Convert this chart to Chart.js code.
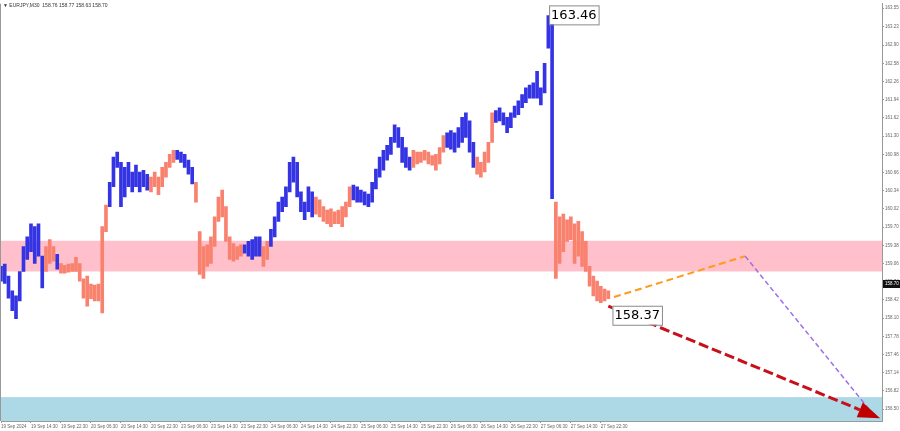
<!DOCTYPE html>
<html>
<head>
<meta charset="utf-8">
<script src="https://cdn.jsdelivr.net/npm/chart.js@4.4.1/dist/chart.umd.min.js"></script>
<style>
  html, body { margin: 0; padding: 0; background: #fff; }
</style>
</head>
<body>
<canvas id="myChart" width="900" height="431"></canvas>
<script>
// EURJPY M30 - one entry every 2 bars
const barStep = 2;
const highs = [159.01,159.05,158.84,158.58,158.49,158.92,159.36,159.53,159.76,159.71,159.76,159.19,
  159.36,159.48,159.36,159.22,159.06,159.03,159.05,159.06,159.17,159.06,158.79,158.84,158.70,158.68,158.70,159.71,160.09,
  160.49,160.93,161.02,160.84,160.75,160.84,160.67,160.79,160.67,160.70,160.63,
  160.58,160.67,160.58,160.75,160.84,160.98,161.05,161.05,161.02,160.98,160.88,160.75,
  160.49,159.62,159.36,159.39,159.53,159.88,160.23,160.35,160.06,159.53,159.41,159.36,159.39,
  159.39,159.45,159.48,159.53,159.53,159.36,159.45,
  159.66,159.88,160.14,160.23,160.41,160.84,160.93,160.84,160.32,160.14,160.41,160.32,
  160.23,160.18,160.06,160.00,160.02,159.97,160.00,160.06,160.14,160.41,
  160.44,160.41,160.35,160.32,160.28,160.49,160.72,160.93,161.05,161.14,161.28,161.50,161.45,161.28,161.10,160.93,
  161.05,161.02,161.02,161.05,161.02,160.96,160.98,161.10,161.31,
  161.36,161.40,161.36,161.45,161.63,161.71,161.57,161.19,
  160.93,160.84,161.02,161.19,161.71,
  161.75,161.80,161.71,161.63,161.71,161.83,161.92,162.03,162.15,162.20,162.24,162.44,162.15,162.58,163.42,163.46,
  160.14,159.88,159.93,159.83,159.88,159.76,159.80,159.62,159.45,159.01,158.84,158.75,158.66,158.61,158.58];
const lows = [158.75,158.71,158.45,158.23,158.09,158.40,158.92,159.13,159.27,159.06,159.19,158.63,
  158.92,159.06,159.10,158.96,158.89,158.89,158.91,158.92,158.92,158.75,158.45,158.31,158.44,158.40,158.40,158.19,159.62,
  160.06,160.41,160.75,160.06,160.23,160.41,160.32,160.41,160.32,160.41,160.35,
  160.32,160.41,160.27,160.41,160.58,160.75,160.84,160.89,160.84,160.75,160.63,160.46,
  160.14,158.87,158.80,159.01,159.06,159.36,159.80,159.88,159.45,159.13,159.10,159.13,159.19,
  159.24,159.19,159.13,159.19,159.19,159.01,159.13,
  159.36,159.53,159.80,159.97,160.06,160.32,160.49,160.23,159.97,159.83,159.97,159.88,
  159.93,159.88,159.80,159.76,159.71,159.76,159.76,159.71,159.88,160.06,
  160.18,160.14,160.14,160.09,160.06,160.14,160.37,160.58,160.70,160.88,160.98,161.19,161.10,160.84,160.75,160.70,
  160.75,160.81,160.84,160.88,160.81,160.79,160.70,160.81,161.02,
  161.10,161.07,161.02,161.10,161.19,161.28,161.02,160.75,
  160.63,160.58,160.67,160.84,161.19,
  161.54,161.57,161.50,161.36,161.45,161.63,161.68,161.80,161.89,161.97,161.97,161.97,161.85,162.06,162.85,160.20,
  158.80,159.06,159.27,159.45,159.48,159.06,159.19,159.01,158.92,158.66,158.49,158.40,158.37,158.40,158.44];
// 1 = up wave (blue), 0 = down wave (salmon)
const waveUp = [1,1,1,1,1,1,1,1,1,1,1,1, 0,0,0, 1, 0,0,0,0,0,0,0,0,0,0,0,0,0,
  1,1,1,1,1,1,1,1,1,1,1, 0,0,0,0,0,0,0, 1,1,1,1,1, 0,0,0,0,0,0,0,0,0,0,0,0,0,
  1,1,1,1,1, 0,0, 1,1,1,1,1,1,1,1,1,1,1,1, 0,0,0,0,0,0,0,0,0,0,
  1,1,1,1,1,1,1,1,1,1,1,1,1,1,1,1, 0,0,0,0,0,0,0,0,0, 1,1,1,1,1,1,1,1, 0,0,0,0,0,
  1,1,1,1,1,1,1,1,1,1,1,1,1,1,1,1, 0,0,0,0,0,0,0,0,0,0,0,0,0,0,0];

const timeLabels = ['19 Sep 2024','19 Sep 14:30','19 Sep 22:30','20 Sep 06:30','20 Sep 14:30','20 Sep 22:30',
  '23 Sep 06:30','23 Sep 14:30','23 Sep 22:30','24 Sep 06:30','24 Sep 14:30','24 Sep 22:30',
  '25 Sep 06:30','25 Sep 14:30','25 Sep 22:30','26 Sep 06:30','26 Sep 14:30','26 Sep 22:30',
  '27 Sep 06:30','27 Sep 14:30','27 Sep 22:30'];
const barsPerLabel = 16;
const priceTicks = [163.55,163.23,162.90,162.58,162.26,161.94,161.62,161.30,160.98,160.66,160.34,160.02,
  159.70,159.38,159.06,158.74,158.42,158.10,157.78,157.46,157.14,156.82,156.50];

const zonePink = [159.46, 158.92];
const zoneBlue = [156.71, 156.29];
const orangePath = [[327, 158.47], [397, 159.19]];
const purplePath = [[397, 159.19], [463, 156.50]];
const redArrow = [[324, 158.31], [469, 156.34]];
const highLabel = [294, 163.46];
const lowLabel = [323, 158.37];
const lastPrice = 158.70;
const titleText = '\u25BC EURJPY,M30  158.76 158.77 158.63 158.70';

const blueBar = '#3434e4';
const salmonBar = '#f9826f';

const decor = {
  id: 'decor',
  beforeDatasetsDraw(chart) {
    const { ctx, chartArea: a, scales: { y } } = chart;
    ctx.save();
    ctx.beginPath();
    ctx.rect(a.left, a.top, a.right - a.left, a.bottom - a.top);
    ctx.clip();
    [[zonePink, '#ffc0cb'], [zoneBlue, '#add8e6']].forEach(([z, c]) => {
      const y1 = y.getPixelForValue(z[0]), y2 = y.getPixelForValue(z[1]);
      ctx.fillStyle = c;
      ctx.fillRect(a.left, y1, a.right - a.left, y2 - y1);
    });
    ctx.restore();
  },
  afterDatasetsDraw(chart) {
    const { ctx, scales: { x, y } } = chart;
    const P = p => [x.getPixelForValue(p[0]), y.getPixelForValue(p[1])];
    ctx.save();

    function dashed(path, color, w, dash) {
      const a = P(path[0]), b = P(path[1]);
      ctx.strokeStyle = color; ctx.lineWidth = w; ctx.setLineDash(dash);
      ctx.beginPath(); ctx.moveTo(a[0], a[1]); ctx.lineTo(b[0], b[1]); ctx.stroke();
    }
    dashed(orangePath, '#ff9a1a', 2, [7, 4]);
    dashed(purplePath, '#a06ee6', 1.5, [5, 3]);

    // red arrow
    const s = P(redArrow[0]), e = P(redArrow[1]);
    const ang = Math.atan2(e[1] - s[1], e[0] - s[0]);
    const hl = 22, hw = 8;
    const bx = e[0] - hl * Math.cos(ang), by = e[1] - hl * Math.sin(ang);
    ctx.strokeStyle = '#c8101a'; ctx.lineWidth = 3; ctx.setLineDash([10, 4]);
    ctx.beginPath(); ctx.moveTo(s[0], s[1]); ctx.lineTo(bx, by); ctx.stroke();
    ctx.setLineDash([]);
    ctx.fillStyle = '#c00000';
    ctx.beginPath();
    ctx.moveTo(e[0], e[1]);
    ctx.lineTo(bx + hw * Math.sin(ang), by - hw * Math.cos(ang));
    ctx.lineTo(bx - hw * Math.sin(ang), by + hw * Math.cos(ang));
    ctx.closePath(); ctx.fill();

    // price labels
    function box(anchor, dx, dy, txt) {
      const p = P(anchor);
      ctx.font = '13px "DejaVu Sans"';
      const w = ctx.measureText(txt).width + 4;
      ctx.fillStyle = '#fff'; ctx.strokeStyle = '#8a8a8a'; ctx.lineWidth = 1;
      ctx.fillRect(p[0] + dx, p[1] + dy, w, 19);
      ctx.strokeRect(p[0] + dx + 0.5, p[1] + dy + 0.5, w, 19);
      ctx.fillStyle = '#000'; ctx.textBaseline = 'middle'; ctx.textAlign = 'left';
      ctx.fillText(txt, p[0] + dx + 2, p[1] + dy + 10);
    }
    box(highLabel, -3, -8, highLabel[1].toFixed(2));
    box(lowLabel, 6, 3, lowLabel[1].toFixed(2));
    ctx.restore();
  },
  afterDraw(chart) {
    const { ctx, chartArea: a, scales: { y } } = chart;
    ctx.save();
    ctx.font = '5px "Liberation Sans"';
    ctx.fillStyle = '#333'; ctx.textBaseline = 'middle';
    ctx.fillText(titleText, 3, 6);
    // left border
    ctx.strokeStyle = '#999'; ctx.lineWidth = 1;
    ctx.beginPath(); ctx.moveTo(0.5, a.top); ctx.lineTo(0.5, a.bottom); ctx.stroke();
    // last price marker
    const py = y.getPixelForValue(lastPrice);
    ctx.fillStyle = '#111';
    ctx.fillRect(a.right + 1, py - 4, 18, 8);
    ctx.fillStyle = '#fff';
    ctx.font = '4.5px "Liberation Sans"';
    ctx.fillText(lastPrice.toFixed(2), a.right + 3, py);
    ctx.restore();
  }
};

const ctx = document.getElementById('myChart');
new Chart(ctx, {
  type: 'bar',
  data: {
    datasets: [{
      data: highs.map((h, i) => ({ x: i * barStep, y: [lows[i], h] })),
      backgroundColor: waveUp.map(u => u ? blueBar : salmonBar),
      borderWidth: 0,
      barThickness: 3
    }]
  },
  options: {
    responsive: false,
    animation: false,
    devicePixelRatio: 1,
    layout: { padding: 0 },
    plugins: { legend: { display: false }, tooltip: { enabled: false } },
    scales: {
      x: {
        type: 'linear', min: 0, max: 470, offset: false,
        grid: { display: true, drawOnChartArea: false, drawTicks: true, tickLength: 2, color: '#999', offset: false },
        border: { display: true, color: '#999' },
        afterBuildTicks: axis => { axis.ticks = timeLabels.map((t, i) => ({ value: i * barsPerLabel })); },
        afterFit: axis => { axis.height = 10; },
        ticks: {
          callback: (v, i) => timeLabels[i],
          autoSkip: false, maxRotation: 0, minRotation: 0, align: 'start',
          padding: 1, color: '#666', font: { family: 'Liberation Sans', size: 4.5 }
        }
      },
      y: {
        position: 'right', min: 156.29, max: 163.63,
        grid: { display: true, drawOnChartArea: false, drawTicks: true, tickLength: 2, color: '#999' },
        border: { display: true, color: '#999' },
        afterBuildTicks: axis => { axis.ticks = priceTicks.map(v => ({ value: v })); },
        afterFit: axis => { axis.width = 18; },
        ticks: {
          callback: v => v.toFixed(2),
          padding: 1, color: '#666', font: { family: 'Liberation Sans', size: 4.5 }
        }
      }
    }
  },
  plugins: [decor]
});
</script>
</body>
</html>
